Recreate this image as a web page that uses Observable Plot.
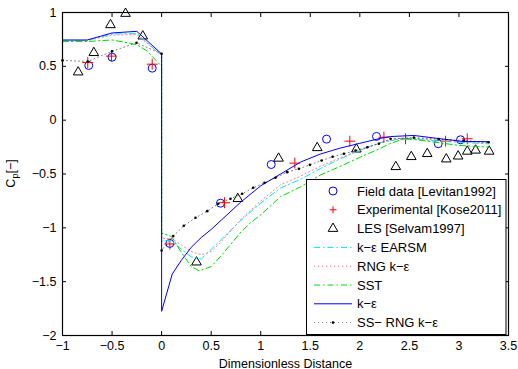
<!DOCTYPE html>
<html><head><meta charset="utf-8">
<script src="https://cdn.jsdelivr.net/npm/d3@7"></script>
<script src="https://cdn.jsdelivr.net/npm/@observablehq/plot@0.6"></script>
<style>html,body{margin:0;padding:0;background:#fff;} #chart{width:518px;height:369px;}</style>
</head><body><div id="chart"></div>
<script>
const xTicks = [-1, -0.5, 0, 0.5, 1, 1.5, 2, 2.5, 3, 3.5];
const yTicks = [-2, -1.5, -1, -0.5, 0, 0.5, 1];
const xLabel = "Dimensionless Distance";

const fieldData = [[-0.735,0.508],[-0.5,0.585],[-0.095,0.483],[0.083,-1.145],[0.594,-0.771],[1.106,-0.412],[1.664,-0.176],[2.168,-0.151],[2.791,-0.219],[3.016,-0.182]];
const experimental = [[-0.745,0.535],[-0.506,0.595],[-0.095,0.52],[0.083,-1.15],[0.635,-0.767],[1.344,-0.399],[1.899,-0.195],[2.243,-0.158],[2.461,-0.173],[2.865,-0.195],[3.084,-0.173]];
const les = [[-0.842,0.446],[-0.684,0.626],[-0.516,0.885],[-0.364,0.99],[-0.19,0.78],[0.352,-1.319],[0.769,-0.73],[1.18,-0.355],[1.57,-0.257],[1.965,-0.27],[2.363,-0.433],[2.519,-0.34],[2.68,-0.312],[2.872,-0.362],[2.992,-0.335],[3.084,-0.29],[3.168,-0.28],[3.305,-0.29]];
const earsm = [[-1,0.74],[-0.75,0.74],[-0.5,0.8],[-0.25,0.805],[0,0.6],[0,-1.12],[0.1,-1.12],[0.2,-1.2],[0.3,-1.27],[0.4,-1.29],[0.5,-1.2],[0.6,-1.11],[0.7,-1.02],[0.8,-0.93],[1,-0.77],[1.2,-0.63],[1.4,-0.55],[1.6,-0.45],[1.8,-0.36],[2,-0.28],[2.2,-0.21],[2.4,-0.175],[2.6,-0.18],[2.8,-0.195],[3,-0.205],[3.3,-0.22]];
const rng = [[-1,0.74],[-0.75,0.74],[-0.5,0.79],[-0.25,0.795],[0,0.6],[0,-1.1],[0.1,-1.1],[0.2,-1.16],[0.3,-1.22],[0.4,-1.25],[0.5,-1.22],[0.6,-1.13],[0.8,-0.92],[1,-0.75],[1.2,-0.6],[1.4,-0.52],[1.6,-0.43],[1.8,-0.35],[2,-0.28],[2.2,-0.21],[2.4,-0.17],[2.6,-0.17],[2.8,-0.19],[3,-0.2],[3.3,-0.21]];
const sst = [[-1,0.73],[-0.75,0.73],[-0.5,0.745],[-0.35,0.72],[-0.25,0.7],[-0.15,0.645],[0,0.5],[0,-1.05],[0.1,-1.08],[0.2,-1.23],[0.3,-1.36],[0.38,-1.4],[0.5,-1.36],[0.6,-1.26],[0.7,-1.15],[0.8,-1.04],[0.9,-0.95],[1,-0.88],[1.2,-0.71],[1.4,-0.62],[1.6,-0.51],[1.8,-0.43],[2,-0.345],[2.2,-0.265],[2.3,-0.22],[2.45,-0.17],[2.6,-0.185],[2.8,-0.21],[3,-0.235],[3.3,-0.25]];
const ke = [[-1,0.745],[-0.75,0.745],[-0.5,0.81],[-0.25,0.825],[0,0.615],[0,-1.775],[0.107,-1.43],[0.2,-1.3],[0.3,-1.18],[0.4,-1.09],[0.5,-1.015],[0.6,-0.93],[0.8,-0.76],[1,-0.61],[1.2,-0.5],[1.4,-0.39],[1.6,-0.315],[1.8,-0.26],[2,-0.215],[2.2,-0.17],[2.31,-0.152],[2.545,-0.142],[2.79,-0.17],[3.04,-0.198],[3.3,-0.2]];
const ssRng = [[-1,0.555],[-0.745,0.545],[-0.5,0.64],[-0.253,0.718],[0,0.616],[0,-1.21],[0.117,-1.077],[0.224,-0.981],[0.342,-0.907],[0.46,-0.845],[0.571,-0.777],[0.695,-0.73],[0.813,-0.684],[0.924,-0.628],[1.038,-0.582],[1.149,-0.535],[1.267,-0.483],[1.385,-0.452],[1.496,-0.415],[1.614,-0.375],[1.725,-0.34],[1.839,-0.312],[1.957,-0.282],[2.075,-0.251],[2.192,-0.219],[2.31,-0.173],[2.545,-0.162],[2.797,-0.176],[3.049,-0.189],[3.3,-0.205]];

const legendItems = [
  {label: "Field data [Levitan1992]", kind: "circle"},
  {label: "Experimental [Kose2011]", kind: "plus"},
  {label: "LES [Selvam1997]", kind: "triangle"},
  {label: "k\u2212\u03b5 EARSM", kind: "earsm"},
  {label: "RNG k\u2212\u03b5", kind: "rng"},
  {label: "SST", kind: "sst"},
  {label: "k\u2212\u03b5", kind: "ke"},
  {label: "SS\u2212 RNG k\u2212\u03b5", kind: "ssrng"}
];

const FONT = "'Liberation Sans', Arial, Helvetica, sans-serif";
const styles = {
  earsm: {stroke: "#00e5ff", strokeWidth: 1, strokeDasharray: "6,3,1.5,3"},
  rng: {stroke: "#ff8080", strokeWidth: 1, strokeDasharray: "1.2,2.8"},
  sst: {stroke: "#00dd00", strokeWidth: 1, strokeDasharray: "6,3,1.5,3"},
  ke: {stroke: "#0000ff", strokeWidth: 1},
  ssrng: {stroke: "#000", strokeWidth: 0.7, strokeOpacity: 0.75, strokeDasharray: "1,3"}
};
const X = d => d[0], Y = d => d[1];
const fmt = d3.format("~g");

const chart = Plot.plot({
  width: 518, height: 369,
  marginLeft: 62, marginRight: 10, marginTop: 12, marginBottom: 34,
  style: {fontFamily: FONT, fontSize: "12.5px", background: "white", color: "black", overflow: "visible"},
  x: {domain: [-1, 3.5]},
  y: {domain: [-2, 1]},
  marks: [
    Plot.dot(fieldData, {x: X, y: Y, r: 4, stroke: "#0000ff", strokeWidth: 1, fill: "none"}),
    Plot.dot(experimental, {x: X, y: Y, symbol: "plus", r: 3.6, stroke: "#ff0000", strokeWidth: 1, fill: "none"}),
    Plot.dot(les, {x: X, y: Y, symbol: "triangle2", r: 4.6, stroke: "#000", strokeWidth: 1, fill: "none"}),
    Plot.line(earsm, {x: X, y: Y, ...styles.earsm}),
    Plot.line(rng, {x: X, y: Y, ...styles.rng}),
    Plot.line(sst, {x: X, y: Y, ...styles.sst}),
    Plot.line(ke, {x: X, y: Y, ...styles.ke}),
    Plot.line(ssRng, {x: X, y: Y, ...styles.ssrng}),
    Plot.dot(ssRng, {x: X, y: Y, r: 1.3, fill: "#000"}),
    Plot.frame({stroke: "#000", strokeWidth: 1.2}),
    Plot.axisX(xTicks, {anchor: "bottom", tickSize: -4, text: null, label: null}),
    Plot.axisX(xTicks, {anchor: "top", tickSize: -4, text: null, label: null}),
    Plot.axisY(yTicks, {anchor: "left", tickSize: -4, text: null, label: null}),
    Plot.axisY(yTicks, {anchor: "right", tickSize: -4, text: null, label: null}),
    Plot.axisX(xTicks, {anchor: "bottom", tickSize: 0, tickPadding: 6, tickFormat: fmt, label: null}),
    Plot.axisY(yTicks, {anchor: "left", tickSize: 0, tickPadding: 6, tickFormat: fmt, label: null}),
    Plot.text([xLabel], {frameAnchor: "bottom", dy: 28, lineAnchor: "middle", text: d => d, fontSize: 12.5})
  ]
});
document.getElementById("chart").appendChild(chart);

const svg = d3.select(chart);
// y label with subscript
const yl = svg.append("text")
  .attr("transform", "translate(15,173.5) rotate(-90)")
  .attr("text-anchor", "middle")
  .attr("font-family", FONT).attr("font-size", 12.5).attr("fill", "black");
yl.append("tspan").text("C");
yl.append("tspan").attr("dy", 3).attr("font-size", 9).text("p");
yl.append("tspan").attr("dy", -3).text("[\u2212]");

// legend
const lg = svg.append("g").attr("font-family", FONT).attr("font-size", 13).attr("text-anchor", "start");
lg.append("rect").attr("x", 306.5).attr("y", 179.5).attr("width", 199.5).attr("height", 155)
  .attr("fill", "white").attr("stroke", "black").attr("stroke-width", 1);
legendItems.forEach((it, i) => {
  const cy = 191 + i * 18.8;
  const cx = 333;
  if (it.kind === "circle") {
    lg.append("circle").attr("cx", cx).attr("cy", cy).attr("r", 4).attr("fill", "none").attr("stroke", "#0000ff");
  } else if (it.kind === "plus") {
    lg.append("path").attr("d", `M${cx-3.5},${cy}H${cx+3.5}M${cx},${cy-3.5}V${cy+3.5}`).attr("stroke", "#ff0000").attr("fill", "none");
  } else if (it.kind === "triangle") {
    lg.append("path").attr("d", d3.symbol(d3.symbolTriangle2, 4.6 * 4.6 * Math.PI)()).attr("transform", `translate(${cx},${cy})`).attr("stroke", "#000").attr("fill", "none");
  } else {
    const s = styles[it.kind];
    lg.append("line").attr("x1", 314).attr("x2", 352).attr("y1", cy).attr("y2", cy)
      .attr("stroke", s.stroke).attr("stroke-width", s.strokeWidth)
      .attr("stroke-opacity", s.strokeOpacity || 1)
      .attr("stroke-dasharray", s.strokeDasharray || null);
    if (it.kind === "ssrng") lg.append("circle").attr("cx", cx).attr("cy", cy).attr("r", 1.3).attr("fill", "#000");
  }
  lg.append("text").attr("x", 357).attr("y", cy).attr("dy", "0.35em").attr("text-anchor", "start").attr("fill", "black").text(it.label);
});
</script>
</body></html>
